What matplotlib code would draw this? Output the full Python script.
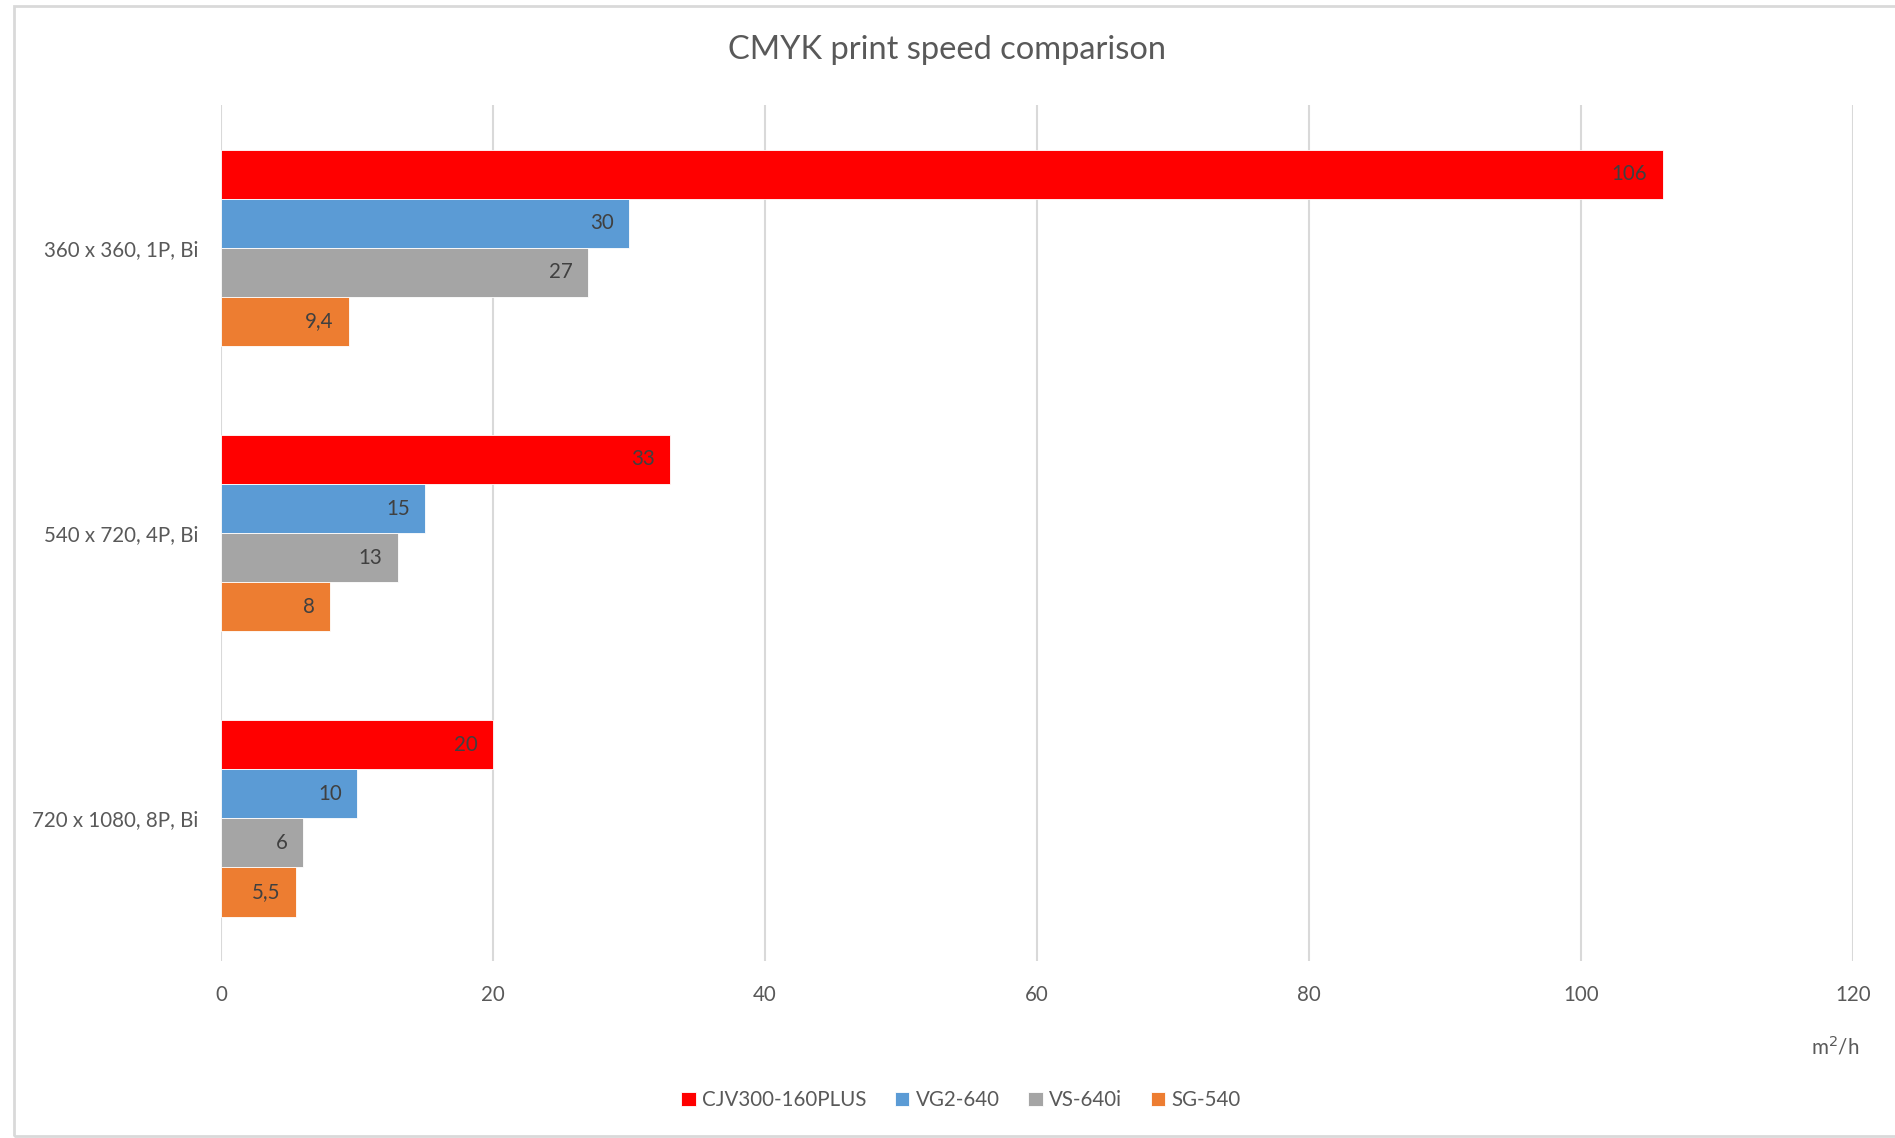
import numpy as np
import matplotlib.pyplot as plt
from matplotlib.patches import Rectangle

# data
categories = ["360 x 360, 1P, Bi", "540 x 720, 4P, Bi", "720 x 1080, 8P, Bi"]
series = ["CJV300-160PLUS", "VG2-640", "VS-640i", "SG-540"]
cjv300 = [106, 33, 20]
vg2 = [30, 15, 10]
vs640i = [27, 13, 6]
sg540 = [9.4, 8, 5.5]
colors = ["#FF0000", "#5B9BD5", "#A5A5A5", "#ED7D31"]
xticks = [0, 20, 40, 60, 80, 100, 120]

plt.rcParams['font.family'] = ['Lato', 'DejaVu Sans']
txt_col = "#595959"

fig = plt.figure(figsize=(18.95, 11.38), dpi=100)
ax = fig.add_axes([0.1166, 0.1555, 0.9778 - 0.1166, 0.9077 - 0.1555])

# light border round the chart
fig.patches.append(Rectangle((0.0075, 0.002), 0.995, 0.993, transform=fig.transFigure,
                             fill=False, edgecolor="#D9D9D9", linewidth=2))

values = [cjv300, vg2, vs640i, sg540]
y = np.arange(len(categories))
h = 0.688 / 4

def fmt(v):
    if float(v).is_integer():
        return str(int(v))
    return str(v).replace('.', ',')

for i, (name, vals) in enumerate(zip(series, values)):
    pos = y + (i - 1.5) * h
    ax.barh(pos, vals, height=h, color=colors[i], label=name,
            edgecolor="white", linewidth=0.6, zorder=3)
    for yy, v in zip(pos, vals):
        ax.annotate(fmt(v), (v, yy), xytext=(-11, 0), textcoords="offset points",
                    ha="right", va="center", fontsize=14.8, color="#404040", zorder=4)

ax.set_xlim(0, 120)
ax.set_ylim(2.5, -0.5)
ax.set_xticks(xticks)
ax.set_yticks(y)
ax.set_yticklabels(categories)
ax.grid(axis='x', color="#D9D9D9", linewidth=1.5, zorder=0)
ax.set_axisbelow(True)
for s in ax.spines.values():
    s.set_visible(False)
ax.tick_params(axis='both', length=0, labelsize=14.8, labelcolor=txt_col)
ax.tick_params(axis='x', pad=17)
ax.tick_params(axis='y', pad=16)

fig.text(0.5, 0.9565, "CMYK print speed comparison", ha="center", va="center",
         fontsize=23.5, color=txt_col)
fig.text(0.9685, 0.080, "m$^2$/h", ha="center", va="center", fontsize=14.8, color=txt_col)

fig.legend(loc="center", bbox_to_anchor=(0.507, 0.033), ncol=4, frameon=False,
           fontsize=14.8, labelcolor=txt_col, handlelength=0.7, handleheight=0.7,
           handletextpad=0.3, columnspacing=1.4)

fig.savefig("out.png", dpi=100)
